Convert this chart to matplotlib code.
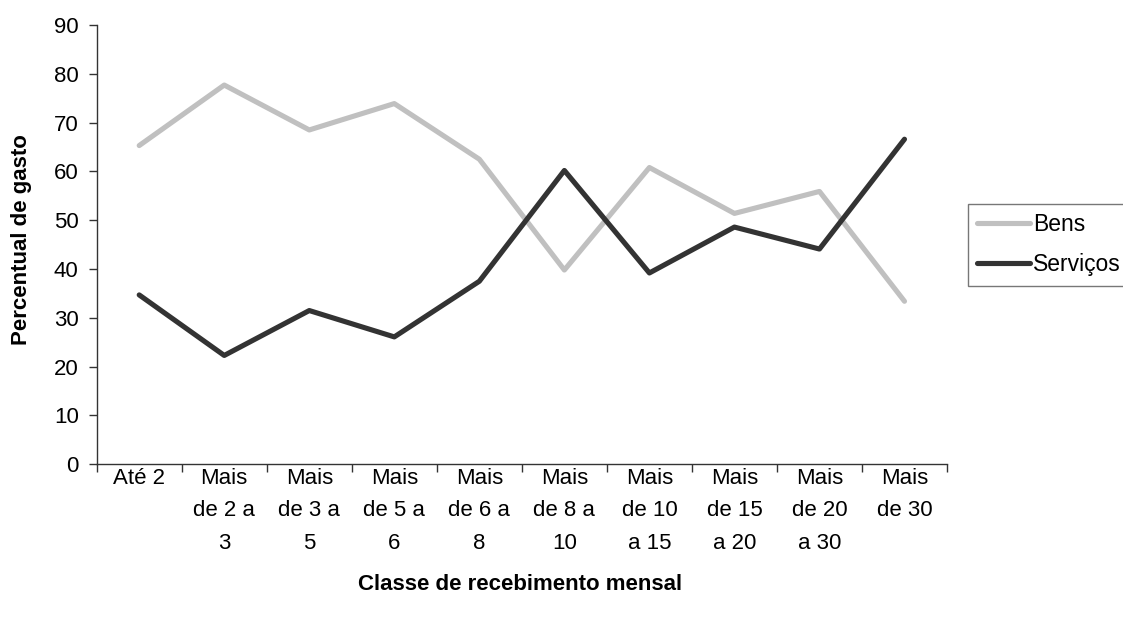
import matplotlib
matplotlib.use("Agg")
import matplotlib.pyplot as plt
import numpy as np

plt.rcParams['font.family'] = ['Liberation Sans', 'DejaVu Sans']

categories = ["Até 2", "Mais\nde 2 a\n3", "Mais\nde 3 a\n5", "Mais\nde 5 a\n6", "Mais\nde 6 a\n8",
              "Mais\nde 8 a\n10", "Mais\nde 10\na 15", "Mais\nde 15\na 20", "Mais\nde 20\na 30",
              "Mais\nde 30"]
bens = [65.3, 77.7, 68.5, 73.9, 62.5, 39.8, 60.8, 51.4, 55.9, 33.4]
servicos = [34.7, 22.3, 31.5, 26.1, 37.5, 60.2, 39.2, 48.6, 44.1, 66.6]
y_ticks = [0, 10, 20, 30, 40, 50, 60, 70, 80, 90]

W, H = 1123, 618
fig = plt.figure(figsize=(W / 100, H / 100), dpi=100)
ax = fig.add_axes([96.7 / W, 1 - 464.3 / H, (947 - 96.7) / W, (464.3 - 25) / H])

x = np.arange(len(categories))
ax.plot(x, bens, color="#c0c0c0", lw=3.7, solid_capstyle="round", label="Bens")
ax.plot(x, servicos, color="#333333", lw=3.7, solid_capstyle="round", label="Serviços")

ax.set_xlim(-0.5, len(categories) - 0.5)
ax.set_ylim(0, 90)
ax.set_yticks(y_ticks)
ax.set_xticks(x)
ax.set_xticklabels(categories, fontsize=16, linespacing=1.72, va="top")
ax.set_xticks(np.arange(-0.5, len(categories)), minor=True)
ax.tick_params(axis="x", which="major", length=0, pad=2.5)
ax.tick_params(axis="x", which="minor", length=6, width=1, color="#333333", direction="out")
ax.tick_params(axis="y", length=6, width=1, color="#333333", labelsize=16, pad=7)

for side in ("top", "right"):
    ax.spines[side].set_visible(False)
for side in ("left", "bottom"):
    ax.spines[side].set_color("#333333")
    ax.spines[side].set_linewidth(1)

fig.text(22 / W, 1 - 240 / H, "Percentual de gasto", fontsize=16, fontweight="bold",
         rotation=90, ha="center", va="center")
fig.text(520 / W, 1 - 590 / H, "Classe de recebimento mensal", fontsize=16,
         fontweight="bold", ha="center", va="baseline")

leg = fig.legend(loc="upper left", bbox_to_anchor=(968 / W, 1 - 204 / H),
                 fontsize=16.5, frameon=True, fancybox=False, handlelength=2.3,
                 handletextpad=0.13, labelspacing=0.75, borderpad=0.4, borderaxespad=0)
leg.get_frame().set_edgecolor("#555555")
leg.get_frame().set_linewidth(1)

fig.savefig("out.png", dpi=100)
